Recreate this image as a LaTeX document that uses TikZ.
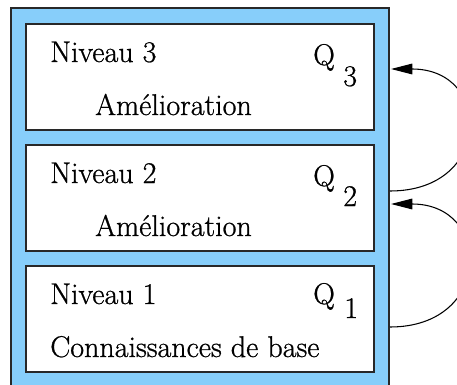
\documentclass[tikz,border=0pt]{standalone}
\usepackage{fontspec}
\setmainfont{Latin Modern Roman}[FakeBold=0.8]
\usetikzlibrary{arrows.meta}
\definecolor{skyfill}{RGB}{135,206,250}
\definecolor{edgegray}{RGB}{40,40,40}
\begin{document}
\begin{tikzpicture}[x=0.75pt,y=-0.75pt,
  lbl/.style={anchor=base west,inner sep=0pt,font=\fontsize{22.5pt}{27pt}\selectfont},
  levelbox/.style={draw=edgegray,fill=white,line width=0.9pt,minimum width=261pt,minimum height=79.5pt,inner sep=0pt},
  loop/.style={draw=black,line width=0.8pt,-{Triangle[length=16pt,width=8pt]}}]
\useasboundingbox (0,0) rectangle (457,385);
\clip (0,0) rectangle (457,385);
\fill[white] (0,0) rectangle (457,385);
\node[draw=edgegray,fill=skyfill,line width=0.9pt,minimum width=283.5pt,minimum height=286.5pt,inner sep=0pt] (outer) at (200,199) {};
\node[levelbox] (b3) at (200,77) {};
\node[levelbox] (b2) at (200,198) {};
\node[levelbox] (b1) at (200,319) {};
% box 3
\node[lbl] (n3) at (50,62) {Niveau 3};
\node[lbl] (a3) at (95,115) {Amélioration};
\node[lbl] (q3) at (313,65) {Q};
\node[lbl] (s3) at (343,86) {3};
% box 2
\node[lbl] (n2) at (50,183) {Niveau 2};
\node[lbl] (a2) at (95,236) {Amélioration};
\node[lbl] (q2) at (313,186) {Q};
\node[lbl] (s2) at (343,206) {2};
% box 1
\node[lbl] (n1) at (50,304) {Niveau 1};
\node[lbl] (c1) at (50,357) {Connaissances de base};
\node[lbl] (q1) at (313,304) {Q};
\node[lbl] (s1) at (344,318) {1};
% loops
\coordinate (o2) at (390,191);
\coordinate (i3) at (391,69);
\coordinate (o1) at (390,327);
\coordinate (i2) at (391,204);
\draw[loop] (o2) .. controls (493,191) and (493,69) .. (i3);
\draw[loop] (o1) .. controls (493,327) and (493,204) .. (i2);
\end{tikzpicture}
\end{document}
